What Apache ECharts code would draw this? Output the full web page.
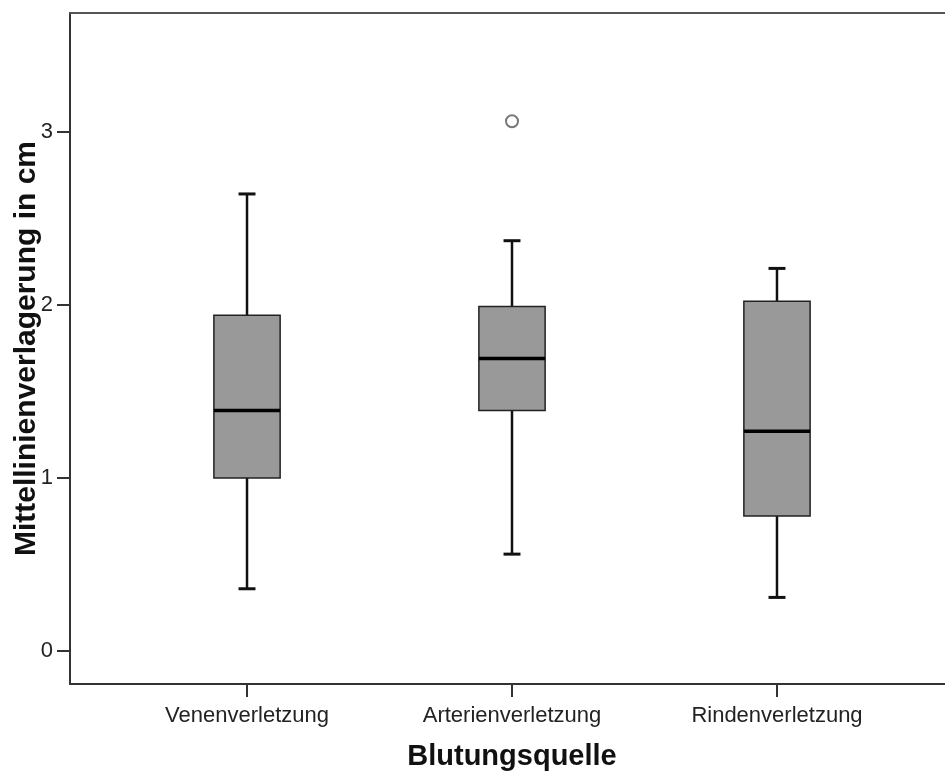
<!DOCTYPE html>
<html>
<head>
<meta charset="utf-8">
<script src="https://cdn.jsdelivr.net/npm/echarts@6/dist/echarts.min.js"></script>
<style>
  html, body { margin: 0; padding: 0; background: #fff; }
  #chart { width: 945px; height: 773px; }
</style>
</head>
<body>
<div id="chart"></div>
<script>
// Mittellinienverlagerung (cm) nach Blutungsquelle
var categories = ['Venenverletzung', 'Arterienverletzung', 'Rindenverletzung'];
var whiskerLow  = [0.36, 0.56, 0.31];
var quartile1   = [1.00, 1.39, 0.78];
var medians     = [1.39, 1.69, 1.27];
var quartile3   = [1.94, 1.99, 2.02];
var whiskerHigh = [2.64, 2.37, 2.21];
var outliers    = [[1, 3.06]];   // [category index, value]
var yTicks = [0, 1, 2, 3];

var FONT = '"Liberation Sans", Arial, Helvetica, sans-serif';

var boxData = categories.map(function (c, i) {
  return [i, whiskerLow[i], quartile1[i], medians[i], quartile3[i], whiskerHigh[i]];
});

function renderBox(params, api) {
  var i = api.value(0);
  var band = api.size([1, 0])[0];
  var half = band * 0.125;
  var capHalf = band * 0.032;
  var x = api.coord([i, 0])[0];
  var yLow = api.coord([i, api.value(1)])[1];
  var yQ1 = api.coord([i, api.value(2)])[1];
  var yMed = api.coord([i, api.value(3)])[1];
  var yQ3 = api.coord([i, api.value(4)])[1];
  var yHigh = api.coord([i, api.value(5)])[1];
  var stroke = { stroke: '#111', lineWidth: 2.5 };
  return {
    type: 'group',
    children: [
      { type: 'line', shape: { x1: x, y1: yQ1, x2: x, y2: yLow }, style: stroke },
      { type: 'line', shape: { x1: x, y1: yQ3, x2: x, y2: yHigh }, style: stroke },
      { type: 'line', shape: { x1: x - capHalf, y1: yLow, x2: x + capHalf, y2: yLow }, style: { stroke: '#111', lineWidth: 3 } },
      { type: 'line', shape: { x1: x - capHalf, y1: yHigh, x2: x + capHalf, y2: yHigh }, style: { stroke: '#111', lineWidth: 3 } },
      { type: 'rect', shape: { x: x - half, y: yQ3, width: half * 2, height: yQ1 - yQ3 },
        style: { fill: '#999999', stroke: '#222', lineWidth: 1.5 } },
      { type: 'line', shape: { x1: x - half, y1: yMed, x2: x + half, y2: yMed }, style: { stroke: '#000', lineWidth: 3.5 } }
    ]
  };
}

var chart = echarts.init(document.getElementById('chart'), null, { renderer: 'canvas' });
// the plot frame runs a little past the right edge of the canvas
var xMin = -0.668, xMax = 2.668;
chart.setOption({
  animation: false,
  backgroundColor: '#ffffff',
  grid: { left: 70, right: -9, top: 13, bottom: 89, containLabel: false, outerBoundsMode: 'none' },
  xAxis: [
    {
      type: 'value', min: xMin, max: xMax, position: 'bottom',
      name: 'Blutungsquelle', nameLocation: 'middle', nameGap: 58, nameMoveOverlap: false,
      nameTextStyle: { fontFamily: FONT, fontSize: 29, fontWeight: 'bold', color: '#111' },
      axisLine: { show: true, onZero: false, lineStyle: { color: '#333', width: 2 } },
      axisTick: { show: true, length: 13, customValues: [0, 1, 2], lineStyle: { color: '#333', width: 2 } },
      axisLabel: {
        customValues: [0, 1, 2], margin: 21,
        fontFamily: FONT, fontSize: 22, color: '#222',
        formatter: function (v) { return categories[Math.round(v)]; }
      },
      splitLine: { show: false }
    },
    {
      type: 'value', min: xMin, max: xMax, position: 'top',
      axisLine: { show: true, onZero: false, lineStyle: { color: '#555', width: 2 } },
      axisTick: { show: false }, axisLabel: { show: false }, splitLine: { show: false }
    }
  ],
  yAxis: {
    type: 'value', min: -0.19, max: 3.685,
    name: 'Mittellinienverlagerung in cm', nameLocation: 'middle', nameGap: 28, nameMoveOverlap: false,
    nameTextStyle: { fontFamily: FONT, fontSize: 30, fontWeight: 'bold', color: '#111' },
    axisLine: { show: true, onZero: false, lineStyle: { color: '#333', width: 2 } },
    axisTick: { show: true, length: 13, customValues: yTicks, lineStyle: { color: '#333', width: 2 } },
    axisLabel: { customValues: yTicks, margin: 17, fontFamily: FONT, fontSize: 22, color: '#222' },
    splitLine: { show: false }
  },
  series: [
    {
      type: 'custom', name: 'Box',
      renderItem: renderBox,
      encode: { x: 0, y: [1, 2, 3, 4, 5] },
      data: boxData,
      clip: false
    },
    {
      type: 'scatter', name: 'Ausreißer',
      symbol: 'circle', symbolSize: 12,
      itemStyle: { color: '#ffffff', borderColor: '#555', borderWidth: 2 },
      data: outliers
    }
  ]
});
</script>
</body>
</html>
